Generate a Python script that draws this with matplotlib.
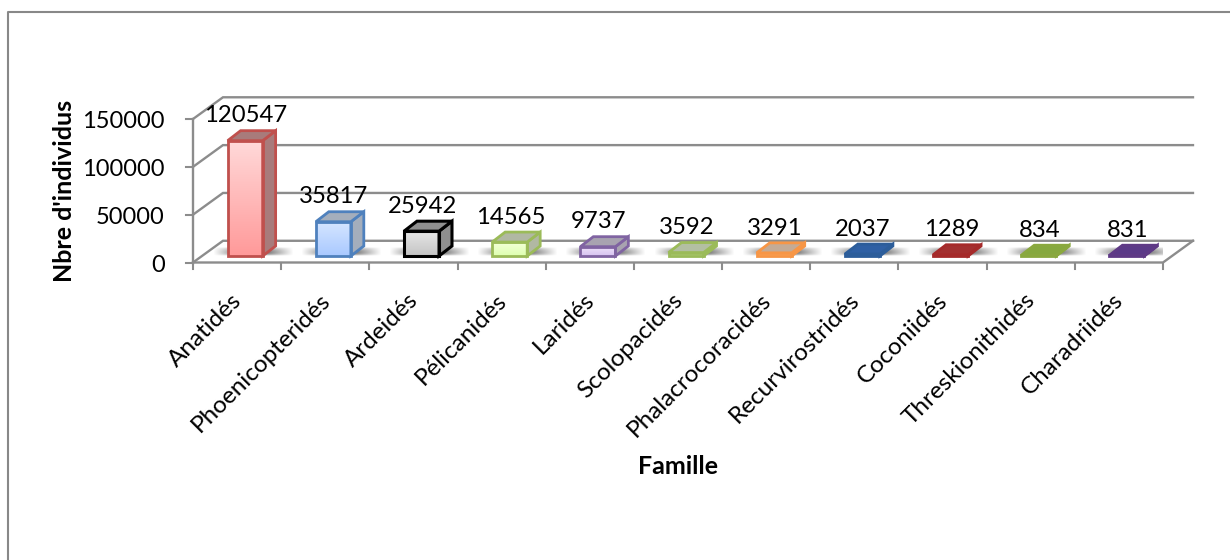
import numpy as np
import matplotlib
matplotlib.use('Agg')
import matplotlib.pyplot as plt
from matplotlib.patches import Polygon

familles = ['Anatidés', 'Phoenicopteridés', 'Ardeidés', 'Pélicanidés', 'Laridés', 'Scolopacidés',
            'Phalacrocoracidés', 'Recurvirostridés', 'Coconiidés', 'Threskionithidés', 'Charadriidés']
individus = [120547, 35817, 25942, 14565, 9737, 3592, 3291, 2037, 1289, 834, 831]
y_ticks = [0, 50000, 100000, 150000]

edge_colors = ['#c0504d', '#4f81bd', '#000000', '#9bbb59', '#8064a2', '#9bbb59',
               '#f79646', '#2c5d9a', '#a52a2a', '#8aa83f', '#5f3a86']
top_colors = ['#ffd9d9', '#d6e6ff', '#e6e6e6', '#f4ffd9', '#efe3fa', '#e6f4c8',
              '#ffd5a8', '#3a6cb0', '#b03030', '#8fb040', '#60408f']
bot_colors = ['#ff9a9a', '#a9c9ff', '#c4c4c4', '#deffb0', '#d6c2f0', '#cfe6a0',
              '#ffb070', '#2f5c98', '#952222', '#7a9a35', '#50307a']
depth_colors = ['#a87b7b', '#a4aebc', '#8f8f8f', '#b1b8a3', '#a8a3b0', '#b3bfa3',
                '#c4ab96', '#2f60a4', '#a33030', '#86a83f', '#5b3a88']

W, H = 1230, 560
X0, X1, Y0, Y150 = 193, 1163, 262.5, 119

# depth of the walls and of the bars, in axis units
wall_dx, wall_dy = 0.34, 22700
bar_dx, bar_dy = 0.147, 10450
bar_left, bar_w, bar_base = 0.393, 0.397, 6800
gris = '#8c8c8c'

plt.rcParams['font.family'] = 'Lato'
fig = plt.figure(figsize=(W / 100, H / 100), dpi=100)
ax = fig.add_axes([X0 / W, 1 - Y0 / H, (X1 - X0) / W, (Y0 - Y150) / H])
ax.set_xlim(0, len(familles))
ax.set_ylim(0, 150000)
ax.axis('off')

# frame of the chart area, only left and top are in the picture
fig.add_artist(plt.Line2D([7.5 / W, 7.5 / W, 1], [0, 1 - 12 / H, 1 - 12 / H], color='#888888', lw=1.5))

n = len(familles)
for v in y_ticks:
    ax.plot([0, wall_dx, n + wall_dx], [v, v + wall_dy, v + wall_dy], color=gris, lw=1.7,
            clip_on=False, zorder=1, solid_joinstyle='miter')
    ax.plot([-0.08, 0], [v, v], color=gris, lw=1.5, clip_on=False, zorder=1)
    ax.text(-0.32, v - 2800, str(v), ha='right', va='center', fontsize=17, color='black')
ax.plot([0, 0], [0, 150000], color=gris, lw=1.7, clip_on=False, zorder=1)
ax.plot([0, n, n + wall_dx], [0, 0, wall_dy], color=gris, lw=1.7, clip_on=False, zorder=1)
for i in range(n + 1):
    ax.plot([i, i], [0, -6500], color=gris, lw=1.5, clip_on=False, zorder=1)


def draw_shadow(x0, x1):
    # soft shadow on the floor, to the left and right of a bar
    xs = np.linspace(0, 1, 80)
    ys = np.linspace(1, 0, 20)
    across = np.clip(np.minimum(xs, 1 - xs) * 3.2, 0, 1)
    img = np.zeros((20, 80, 4))
    img[..., 3] = 0.75 * np.outer(ys ** 0.5 * (1 - ys ** 4), across)
    ax.imshow(img[::-1], extent=[x0, x1, 6800, 16000], aspect='auto', zorder=2, interpolation='bilinear')


for i, v in enumerate(individus):
    x = i + bar_left
    top = bar_base + v
    draw_shadow(x - 0.17, x + bar_w + bar_dx + 0.2)

    grad = np.linspace(0, 1, 50)[:, None]
    c0 = np.array(matplotlib.colors.to_rgb(top_colors[i]))
    c1 = np.array(matplotlib.colors.to_rgb(bot_colors[i]))
    img = c0 * (1 - grad[..., None]) + c1 * grad[..., None]
    ax.imshow(img, extent=[x, x + bar_w, bar_base, top], aspect='auto', zorder=3)

    lw = 2 if i != 2 else 2.2
    ax.add_patch(Polygon([[x + bar_w, bar_base], [x + bar_w + bar_dx, bar_base + bar_dy],
                          [x + bar_w + bar_dx, top + bar_dy], [x + bar_w, top]],
                         facecolor=depth_colors[i], edgecolor=edge_colors[i], lw=lw, zorder=3, clip_on=False))
    ax.add_patch(Polygon([[x, top], [x + bar_dx, top + bar_dy],
                          [x + bar_w + bar_dx, top + bar_dy], [x + bar_w, top]],
                         facecolor=depth_colors[i], edgecolor=edge_colors[i], lw=lw, zorder=3, clip_on=False))
    ax.add_patch(Polygon([[x, bar_base], [x, top], [x + bar_w, top], [x + bar_w, bar_base]],
                         facecolor='none', edgecolor=edge_colors[i], lw=lw, zorder=4, clip_on=False))
    ax.text(i + 0.6, top + bar_dy + 4500, str(v), ha='center', va='bottom', fontsize=17.2,
            color='black', zorder=5, clip_on=False)

    ax.annotate(familles[i], xy=(i + 0.5, 0), xytext=(-6, -27), textcoords='offset pixels',
                rotation=45, rotation_mode='anchor', ha='right', va='top', fontsize=17.5, color='black',
                annotation_clip=False)

ax.set_xlim(0, n)
ax.set_ylim(0, 150000)

fig.text(65 / W, 1 - 191 / H, "Nbre d'individus", rotation=90, ha='center', va='center',
         fontsize=18, fontweight='bold', color='black')
fig.text(678 / W, 1 - 467 / H, 'Famille', ha='center', va='center',
         fontsize=18, fontweight='bold', color='black')

fig.savefig('out.png', dpi=100)
